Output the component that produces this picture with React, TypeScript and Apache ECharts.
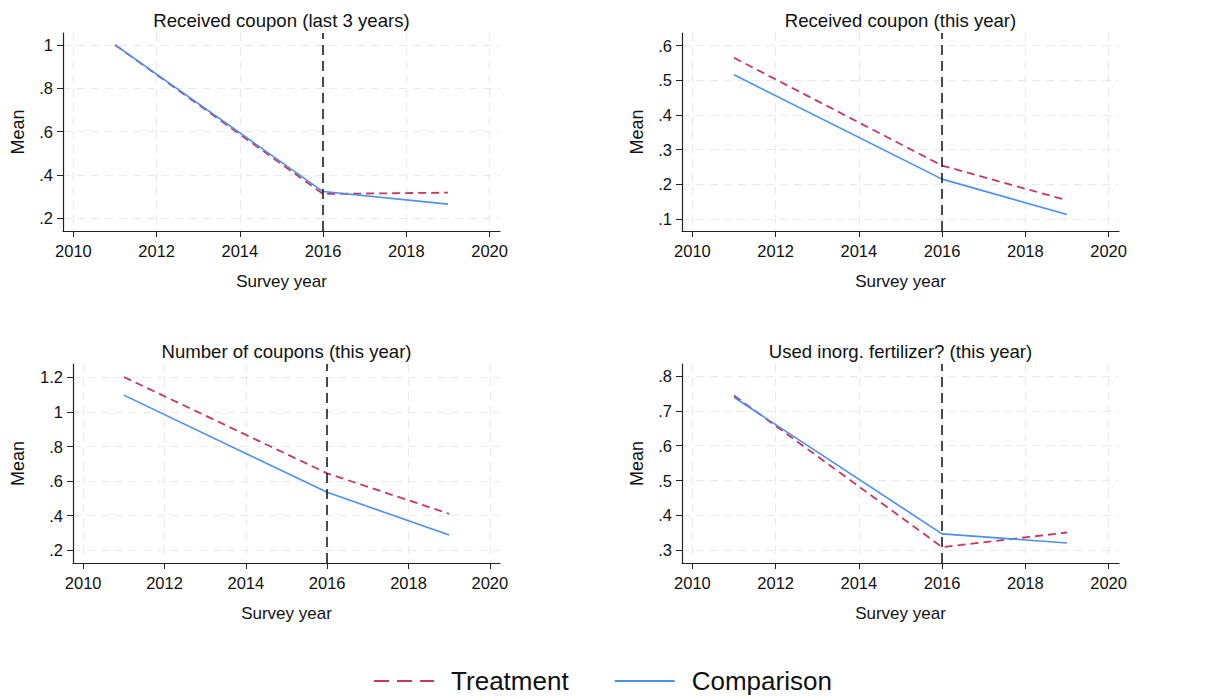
import React, { useEffect, useRef } from "react";
import * as echarts from "echarts";

const years = [2011, 2016, 2019];
const xTicks = [2010, 2012, 2014, 2016, 2018, 2020];

const titles = [
  "Received coupon (last 3 years)",
  "Received coupon (this year)",
  "Number of coupons (this year)",
  "Used inorg. fertilizer? (this year)",
];

const treatment1 = [1.0, 0.312, 0.318];
const comparison1 = [1.0, 0.323, 0.265];
const treatment2 = [0.565, 0.254, 0.154];
const comparison2 = [0.516, 0.215, 0.113];
const treatment3 = [1.202, 0.645, 0.411];
const comparison3 = [1.097, 0.535, 0.289];
const treatment4 = [0.744, 0.309, 0.351];
const comparison4 = [0.739, 0.347, 0.321];

const yTicks1 = [0.2, 0.4, 0.6, 0.8, 1];
const yTicks2 = [0.1, 0.2, 0.3, 0.4, 0.5, 0.6];
const yTicks3 = [0.2, 0.4, 0.6, 0.8, 1, 1.2];
const yTicks4 = [0.3, 0.4, 0.5, 0.6, 0.7, 0.8];

const policyYear = 2016;

const FONT = "'Liberation Sans', Arial, Helvetica, sans-serif";
const RED = "#c9365f";
const BLUE = "#4a8ff2";

export default function App() {
  const ref = useRef<HTMLDivElement>(null);
  useEffect(() => {
    if (!ref.current) return;
    const chart = echarts.init(ref.current, undefined, { renderer: "svg" });

    const grids = [
      { left: 63, top: 33, width: 437, height: 198 },
      { left: 682, top: 33, width: 437, height: 198 },
      { left: 73, top: 364, width: 427, height: 199 },
      { left: 682, top: 364, width: 437, height: 199 },
    ];
    const yRanges = [
      [0.141, 1.055],
      [0.0654, 0.6365],
      [0.1265, 1.277],
      [0.2635, 0.8345],
    ];
    const yTickSets = [yTicks1, yTicks2, yTicks3, yTicks4];
    const yNameGaps = [36, 36, 46, 36];
    const tSeries = [treatment1, treatment2, treatment3, treatment4];
    const cSeries = [comparison1, comparison2, comparison3, comparison4];

    const fmtY = (v: number) => {
      const s = String(Math.round(v * 100) / 100);
      return s.startsWith("0.") ? s.slice(1) : s;
    };

    const axisLine = { show: true, lineStyle: { color: "#222", width: 1.2 } };
    const splitLine = {
      show: true,
      lineStyle: { color: "#eaeaea", width: 1.2, type: [8, 6] as any },
    };

    const xAxis = grids.map((_, i) => ({
      type: "value",
      gridIndex: i,
      min: 2009.75,
      max: 2020.25,
      name: "Survey year",
      nameLocation: "middle",
      nameGap: 42,
      nameTextStyle: { fontFamily: FONT, fontSize: 17, color: "#111" },
      axisLine,
      axisTick: { show: true, length: 6, lineStyle: { color: "#222" }, customValues: xTicks },
      axisLabel: {
        customValues: xTicks,
        fontFamily: FONT,
        fontSize: 16.5,
        color: "#111",
        margin: 11,
        formatter: (v: number) => String(v),
      },
      splitLine,
    }));

    const yAxis = grids.map((_, i) => ({
      type: "value",
      gridIndex: i,
      min: yRanges[i][0],
      max: yRanges[i][1],
      name: "Mean",
      nameLocation: "middle",
      nameGap: yNameGaps[i],
      nameTextStyle: { fontFamily: FONT, fontSize: 18, color: "#111" },
      axisLine,
      axisTick: { show: true, length: 6, lineStyle: { color: "#222" }, customValues: yTickSets[i] },
      axisLabel: {
        customValues: yTickSets[i],
        fontFamily: FONT,
        fontSize: 16.5,
        color: "#111",
        margin: 10,
        formatter: fmtY,
      },
      splitLine,
    }));

    const series: any[] = [];
    grids.forEach((_, i) => {
      series.push({
        type: "line",
        name: "Treatment",
        xAxisIndex: i,
        yAxisIndex: i,
        symbol: "none",
        data: years.map((y, k) => [y, tSeries[i][k]]),
        lineStyle: { color: RED, width: 1.8, type: [8, 5] },
        itemStyle: { color: RED },
        z: 3,
      });
      series.push({
        type: "line",
        name: "Comparison",
        xAxisIndex: i,
        yAxisIndex: i,
        symbol: "none",
        data: years.map((y, k) => [y, cSeries[i][k]]),
        lineStyle: { color: BLUE, width: 1.6, type: "solid" },
        itemStyle: { color: BLUE },
        z: 4,
        markLine: {
          silent: true,
          symbol: ["none", "none"],
          label: { show: false },
          lineStyle: { color: "#111", width: 1.5, type: [10, 6] },
          data: [{ xAxis: policyYear }],
        },
      });
    });

    const graphic = grids.map((g, i) => ({
      type: "text",
      x: g.left + g.width / 2,
      y: g.top - 13,
      style: {
        text: titles[i],
        fontFamily: FONT,
        fontSize: 18.6,
        fill: "#111",
        textAlign: "center",
        textVerticalAlign: "middle",
      },
    }));

    chart.setOption({
      animation: false,
      backgroundColor: "#fff",
      grid: grids,
      xAxis,
      yAxis,
      series,
      graphic,
      legend: {
        left: 373,
        top: 668,
        padding: 0,
        itemWidth: 60,
        itemHeight: 14,
        itemGap: 45,
        itemStyle: { color: "transparent", borderColor: "transparent", borderWidth: 0, opacity: 0 },
        textStyle: { fontFamily: FONT, fontSize: 26, color: "#111", padding: [0, 0, 0, 12] },
        data: [
          { name: "Treatment", lineStyle: { type: [15, 8], width: 2.2, color: RED } },
          { name: "Comparison", lineStyle: { type: "solid", width: 2.2, color: BLUE } },
        ],
      },
    });
    return () => chart.dispose();
  }, []);

  return (
    <div
      ref={ref}
      style={{ position: "fixed", left: 0, top: 0, width: 1224, height: 698 }}
    />
  );
}
